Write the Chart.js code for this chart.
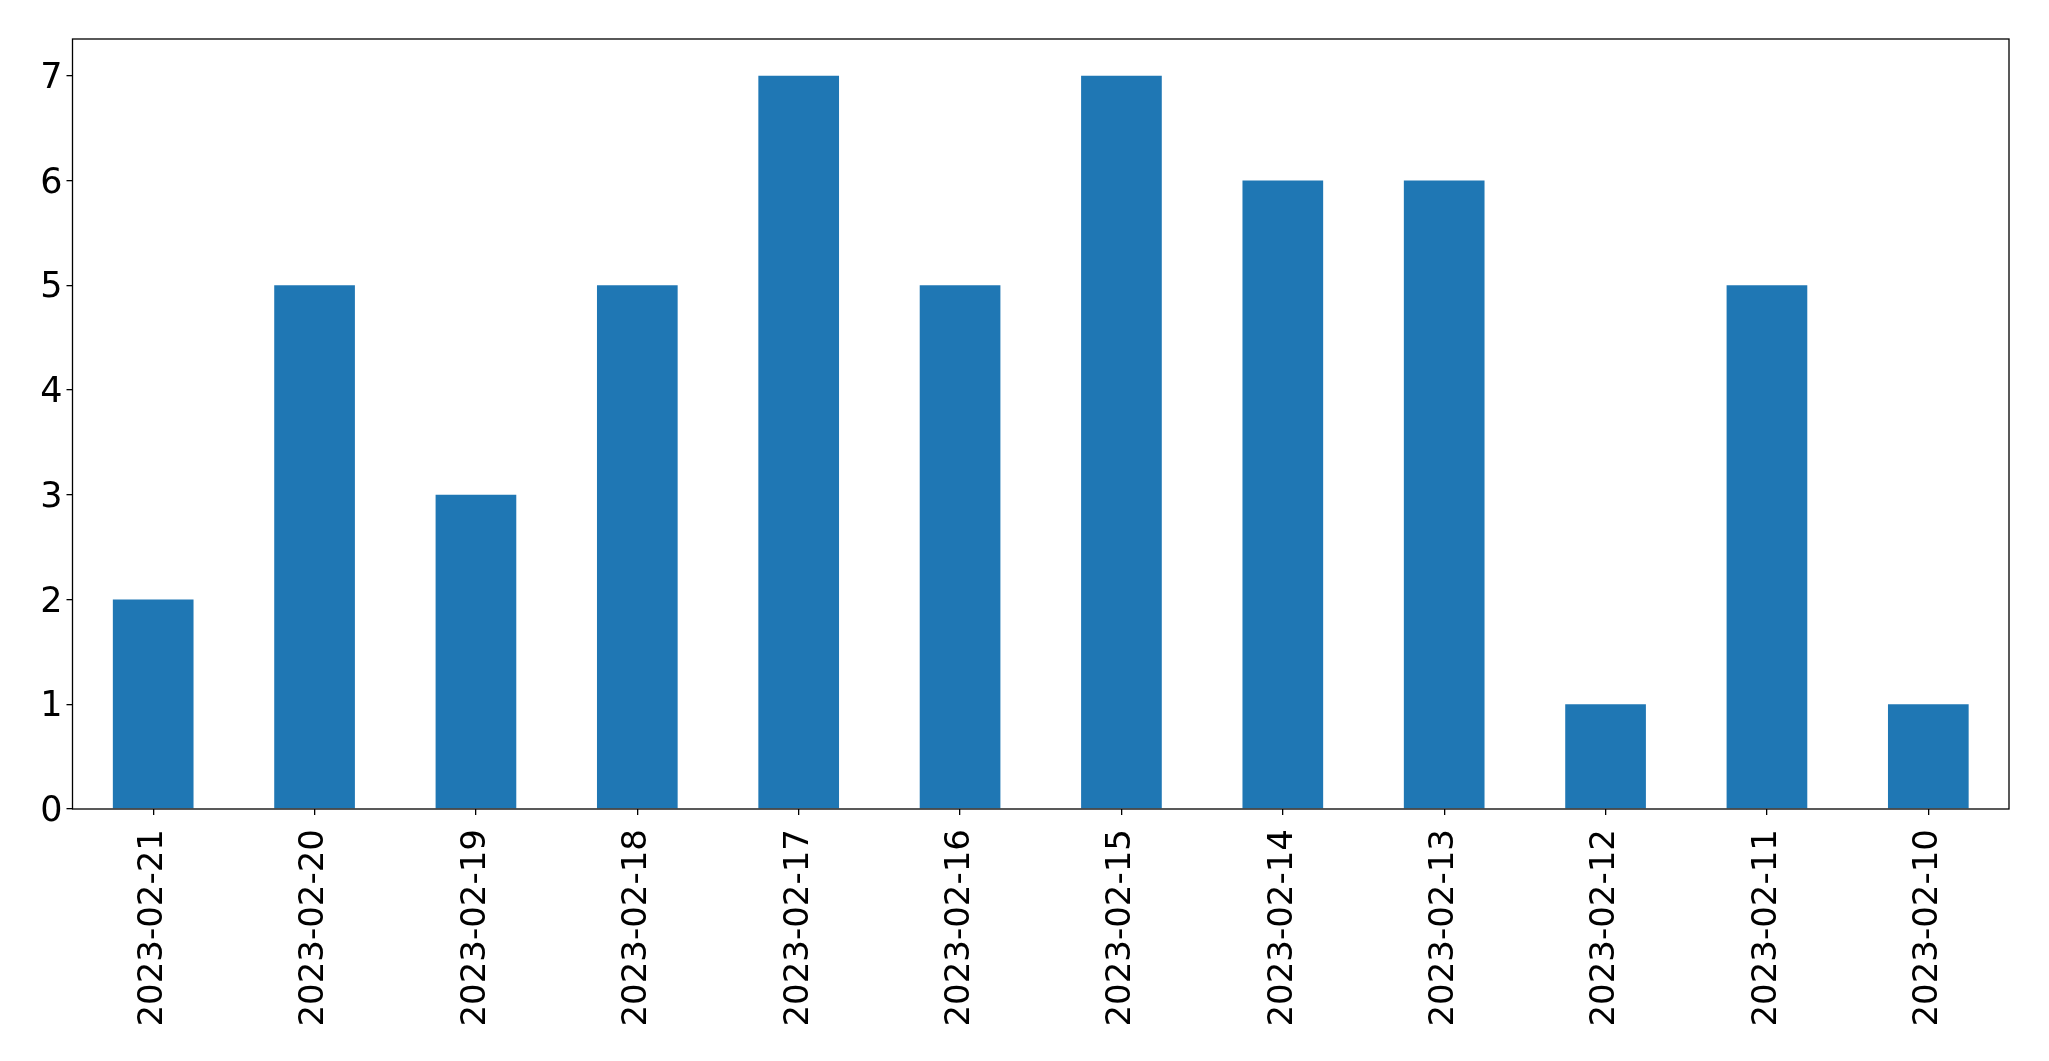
<!DOCTYPE html>
<html>
<head>
<meta charset="utf-8">
<script src="https://cdn.jsdelivr.net/npm/chart.js@4"></script>
<style>
  html, body { margin: 0; padding: 0; background: #fff; }
  #wrap { width: 2049px; height: 1061px; }
</style>
</head>
<body>
<div id="wrap"><canvas id="chart" width="2049" height="1061"></canvas></div>
<script>
// ===== DATA =====
const dates = ['2023-02-21', '2023-02-20', '2023-02-19', '2023-02-18', '2023-02-17', '2023-02-16',
  '2023-02-15', '2023-02-14', '2023-02-13', '2023-02-12', '2023-02-11', '2023-02-10'];
const counts = [2, 5, 3, 5, 7, 5, 7, 6, 6, 1, 5, 1];
const yTicks = [0, 1, 2, 3, 4, 5, 6, 7];
const yMax = 7.35;

const FONT = { family: 'DejaVu Sans', size: 34 };

// frame round the plot area, like matplotlib's spines
const frame = {
  id: 'frame',
  afterDraw(chart) {
    const { ctx, chartArea: a } = chart;
    ctx.save();
    ctx.strokeStyle = '#000';
    ctx.lineWidth = 1.3;
    ctx.strokeRect(a.left, a.top, a.right - a.left, a.bottom - a.top);
    ctx.restore();
  },
};

new Chart(document.getElementById('chart'), {
  type: 'bar',
  data: {
    labels: dates,
    datasets: [{
      data: counts,
      backgroundColor: '#1f77b4',
      barPercentage: 0.5,
      categoryPercentage: 1.0,
    }],
  },
  options: {
    responsive: false,
    animation: false,
    layout: { padding: { top: 39, right: 40, left: 0, bottom: 0 } },
    plugins: { legend: { display: false }, tooltip: { enabled: false } },
    scales: {
      x: {
        offset: true,
        afterFit(s) { s.height = 252; },
        border: { display: false },
        grid: { offset: false, drawOnChartArea: false, drawTicks: true, tickLength: 6, color: '#000', lineWidth: 1.3 },
        ticks: { color: '#000', font: FONT, minRotation: 90, maxRotation: 90, padding: 14, autoSkip: false },
      },
      y: {
        min: 0,
        max: yMax,
        afterFit(s) { s.width = 72.5; },
        afterBuildTicks(s) { s.ticks = yTicks.map(v => ({ value: v })); },
        border: { display: false },
        grid: { drawOnChartArea: false, drawTicks: true, tickLength: 6, color: '#000', lineWidth: 1.3 },
        ticks: { color: '#000', font: { family: 'DejaVu Sans', size: 35 }, padding: 4, labelOffset: 3 },
      },
    },
  },
  plugins: [frame],
});
</script>
</body>
</html>
